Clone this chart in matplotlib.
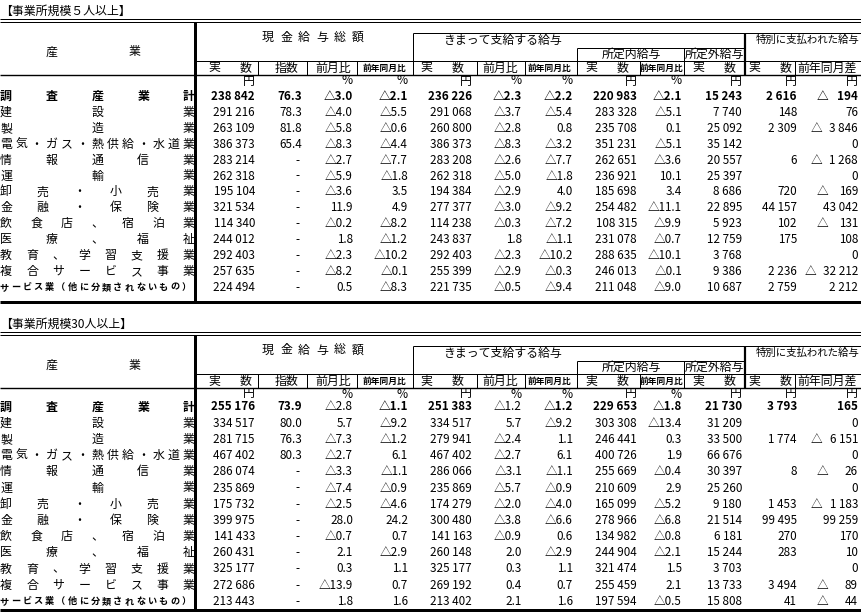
import matplotlib
matplotlib.use("Agg")
import matplotlib.pyplot as plt

plt.rcParams['font.family'] = ['Noto Sans CJK JP', 'DejaVu Sans']

# --------------------------------------------------------------------------- #
# データ
# --------------------------------------------------------------------------- #
industries = ["調査産業計", "建設業", "製造業", "電気・ガス・熱供給・水道業", "情報通信業",
              "運輸業", "卸売・小売業", "金融・保険業", "飲食店、宿泊業", "医療、福祉",
              "教育、学習支援業", "複合サービス事業", "サービス業（他に分類されないもの）"]

col_heads = ["実数", "指数", "前月比", "前年同月比", "実数", "前月比", "前年同月比",
             "実数", "前年同月比", "実数", "実数", "前年同月差"]
col_units = ["円", "", "%", "%", "円", "%", "%", "円", "%", "円", "円", "円"]

# 事業所規模5人以上
s5_cash = ["238 842", "291 216", "263 109", "386 373", "283 214", "262 318", "195 104",
           "321 534", "114 340", "244 012", "292 403", "257 635", "224 494"]
s5_index = ["76.3", "78.3", "81.8", "65.4", "-", "-", "-", "-", "-", "-", "-", "-", "-"]
s5_cash_mom = ["△3.0", "△4.0", "△5.8", "△8.3", "△2.7", "△5.9", "△3.6", "11.9", "△0.2",
               "1.8", "△2.3", "△8.2", "0.5"]
s5_cash_yoy = ["△2.1", "△5.5", "△0.6", "△4.4", "△7.7", "△1.8", "3.5", "4.9", "△8.2",
               "△1.2", "△10.2", "△0.1", "△8.3"]
s5_reg = ["236 226", "291 068", "260 800", "386 373", "283 208", "262 318", "194 384",
          "277 377", "114 238", "243 837", "292 403", "255 399", "221 735"]
s5_reg_mom = ["△2.3", "△3.7", "△2.8", "△8.3", "△2.6", "△5.0", "△2.9", "△3.0", "△0.3",
              "1.8", "△2.3", "△2.9", "△0.5"]
s5_reg_yoy = ["△2.2", "△5.4", "0.8", "△3.2", "△7.7", "△1.8", "4.0", "△9.2", "△7.2",
              "△1.1", "△10.2", "△0.3", "△9.4"]
s5_sched = ["220 983", "283 328", "235 708", "351 231", "262 651", "236 921", "185 698",
            "254 482", "108 315", "231 078", "288 635", "246 013", "211 048"]
s5_sched_yoy = ["△2.1", "△5.1", "0.1", "△5.1", "△3.6", "10.1", "3.4", "△11.1", "△9.9",
                "△0.7", "△10.1", "△0.1", "△9.0"]
s5_over = ["15 243", "7 740", "25 092", "35 142", "20 557", "25 397", "8 686", "22 895",
           "5 923", "12 759", "3 768", "9 386", "10 687"]
s5_bonus = ["2 616", "148", "2 309", "", "6", "", "720", "44 157", "102", "175", "",
            "2 236", "2 759"]
s5_bonus_diff = ["△ 194", "76", "△ 3 846", "0", "△ 1 268", "0", "△ 169", "43 042",
                 "△ 131", "108", "0", "△ 32 212", "2 212"]
s5_bold = [True] * 12

# 事業所規模30人以上
s30_cash = ["255 176", "334 517", "281 715", "467 402", "286 074", "235 869", "175 732",
            "399 975", "141 433", "260 431", "325 177", "272 686", "213 443"]
s30_index = ["73.9", "80.0", "76.3", "80.3", "-", "-", "-", "-", "-", "-", "-", "-", "-"]
s30_cash_mom = ["△2.8", "5.7", "△7.3", "△2.7", "△3.3", "△7.4", "△2.5", "28.0", "△0.7",
                "2.1", "0.3", "△13.9", "1.8"]
s30_cash_yoy = ["△1.1", "△9.2", "△1.2", "6.1", "△1.1", "△0.9", "△4.6", "24.2", "0.7",
                "△2.9", "1.1", "0.7", "1.6"]
s30_reg = ["251 383", "334 517", "279 941", "467 402", "286 066", "235 869", "174 279",
           "300 480", "141 163", "260 148", "325 177", "269 192", "213 402"]
s30_reg_mom = ["△1.2", "5.7", "△2.4", "△2.7", "△3.1", "△5.7", "△2.0", "△3.8", "△0.9",
               "2.0", "0.3", "0.4", "2.1"]
s30_reg_yoy = ["△1.2", "△9.2", "1.1", "6.1", "△1.1", "△0.9", "△4.0", "△6.6", "0.6",
               "△2.9", "1.1", "0.7", "1.6"]
s30_sched = ["229 653", "303 308", "246 441", "400 726", "255 669", "210 609", "165 099",
             "278 966", "134 982", "244 904", "321 474", "255 459", "197 594"]
s30_sched_yoy = ["△1.8", "△13.4", "0.3", "1.9", "△0.4", "2.9", "△5.2", "△6.8", "△0.8",
                 "△2.1", "1.5", "2.1", "△0.5"]
s30_over = ["21 730", "31 209", "33 500", "66 676", "30 397", "25 260", "9 180", "21 514",
            "6 181", "15 244", "3 703", "13 733", "15 808"]
s30_bonus = ["3 793", "", "1 774", "", "8", "", "1 453", "99 495", "270", "283", "",
             "3 494", "41"]
s30_bonus_diff = ["165", "0", "△ 6 151", "0", "△ 26", "0", "△ 1 183", "99 259", "170",
                  "10", "0", "△ 89", "△ 44"]
s30_bold = [True, True, False, True, True, False, True, True, True, True, True, True]

sections = [
    ("【事業所規模５人以上】",
     [s5_cash, s5_index, s5_cash_mom, s5_cash_yoy, s5_reg, s5_reg_mom, s5_reg_yoy,
      s5_sched, s5_sched_yoy, s5_over, s5_bonus, s5_bonus_diff], s5_bold),
    ("【事業所規模30人以上】",
     [s30_cash, s30_index, s30_cash_mom, s30_cash_yoy, s30_reg, s30_reg_mom, s30_reg_yoy,
      s30_sched, s30_sched_yoy, s30_over, s30_bonus, s30_bonus_diff], s30_bold),
]

# --------------------------------------------------------------------------- #
# 配置（ピクセル座標）
# --------------------------------------------------------------------------- #
W, H = 862, 613
PX = 0.72  # 1px in points
col_right = [255, 302, 353, 408, 472, 522, 573, 637, 682, 742, 797, 858]
col_center = [230, 287, 333, 385, 442, 500, 550, 607, 662, 714, 770, 827]
sep_x = [258, 307, 357, 477, 525, 640, 795]
FS = 8.6
FS_NUM = 8.4

fig = plt.figure(figsize=(W / 100, H / 100), dpi=100)
ax = fig.add_axes([0, 0, 1, 1])
ax.set_xlim(0, W)
ax.set_ylim(H, 0)
ax.axis("off")


def hline(y, x0, x1, lw=1.0):
    ax.plot([x0, x1], [y, y], color="black", lw=lw * PX, solid_capstyle="butt")


def vline(x, y0, y1, lw=1.0):
    ax.plot([x, x], [y0, y1], color="black", lw=lw * PX, solid_capstyle="butt")


def spread(text, x0, x1, y, size=FS, weight="normal"):
    n = len(text)
    for i, ch in enumerate(text):
        x = x0 + (x1 - x0) * i / (n - 1) if n > 1 else (x0 + x1) / 2
        ax.text(x, y, ch, ha="center", va="center", fontsize=size, fontweight=weight)


def section(o, row0, step, bottom, title, cols, bold):
    ax.text(0, 11 + o, title, ha="left", va="center", fontsize=FS)
    hline(18.5 + o, 0, W)
    hline(21.8 + o, 0, W)
    vline(195.5, 22 + o, bottom, lw=3)
    hline(33 + o, 413, W)
    vline(413, 33 + o, 75 + o)
    hline(48 + o, 577, 745)
    vline(577, 48 + o, 75 + o)
    vline(684, 48 + o, 75 + o)
    vline(745, 33 + o, 75 + o, lw=2.2)
    hline(61 + o, 195, W)
    hline(74.5 + o, 0, W, lw=1.4)
    for x in sep_x:
        vline(x, 61 + o, 75 + o)
    hline(bottom, 0, W, lw=3)

    spread("産業", 52, 135, 52 + o)
    spread("現金給与総額", 268, 358, 37 + o)
    ax.text(443, 40 + o, "きまって支給する給与", ha="left", va="center", fontsize=FS)
    ax.text(631, 54 + o, "所定内給与", ha="center", va="center", fontsize=FS)
    ax.text(714, 54 + o, "所定外給与", ha="center", va="center", fontsize=FS)
    ax.text(756, 40 + o, "特別に支払われた給与", ha="left", va="center", fontsize=7.5)

    for c, head in enumerate(col_heads):
        y = 68 + o
        if head == "実数":
            spread(head, col_center[c] - 16, col_center[c] + 16, y)
        elif head == "前年同月比":
            ax.text(col_center[c], y, head, ha="center", va="center", fontsize=6.3,
                    fontweight="bold")
        else:
            ax.text(col_center[c], y, head, ha="center", va="center", fontsize=FS)
        if col_units[c]:
            ax.text(col_right[c], 81 + o, col_units[c], ha="right", va="center",
                    fontsize=FS)

    for r, name in enumerate(industries):
        y = row0 + r * step
        if r == len(industries) - 1:
            spread(name, 4, 186, y, size=6.6, weight="bold")
        else:
            spread(name, 6, 189, y, weight="bold" if r == 0 else "normal")
        for c, vals in enumerate(cols):
            v = vals[r]
            if not v:
                continue
            w = "bold" if (r == 0 and bold[c]) else "normal"
            if c == 1 and v == "-":
                ax.text(297, y, v, ha="center", va="center", fontsize=FS_NUM)
            elif c == len(cols) - 1 and v.startswith("△ "):
                num = v[2:]
                ax.text(col_right[c], y, num, ha="right", va="center",
                        fontsize=FS_NUM, fontweight=w)
                tx = 822 if len(num) <= 3 else col_right[c] - 6.0 * len(num) - 12
                ax.text(tx, y, "△", ha="center", va="center", fontsize=FS_NUM,
                        fontweight=w)
            else:
                ax.text(col_right[c], y, v, ha="right", va="center",
                        fontsize=FS_NUM, fontweight=w)


section(0, 96.5, 15.9, 302, sections[0][0], sections[0][1], sections[0][2])
section(313, 407, 16.2, 610, sections[1][0], sections[1][1], sections[1][2])

fig.savefig("out.png", dpi=100)
